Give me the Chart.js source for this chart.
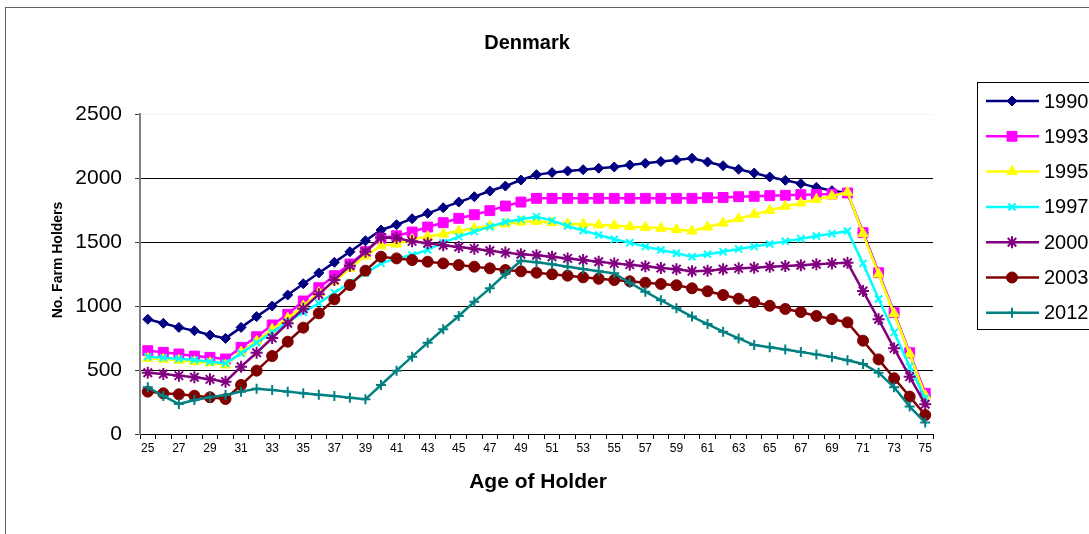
<!DOCTYPE html>
<html>
<head>
<meta charset="utf-8">
<script src="https://cdn.jsdelivr.net/npm/chart.js@4/dist/chart.umd.min.js"></script>
<style>
  body { margin: 0; background: #fff; }
  canvas { display: block; }
</style>
</head>
<body>
<canvas id="myChart" width="1089" height="534"></canvas>
<script>
// ages on the x axis, 25 .. 75
const ages = [25,26,27,28,29,30,31,32,33,34,35,36,37,38,39,40,41,42,43,44,45,46,47,48,49,50,
  51,52,53,54,55,56,57,58,59,60,61,62,63,64,65,66,67,68,69,70,71,72,73,74,75];

// number of farm holders per age
const y1990 = [896,865,833,807,773,747, 833,917,1000,1086,1174,1258,1341,1424,1510,1594,
  1635,1682,1724,1768,1812,1854,1898,1937,1984,2026, 2042,2055,2065,2076,2086,2102,2115,2128,2141,2154,
  2125,2096,2068,2039,2008,1982,1956,1927,1901,1883, 1575,1260,945,630,300];
const y1993 = [651,638,625,609,599,586, 677,760,852,935,1039,1143,1237,1328,1424,1529,
  1549,1578,1617,1651,1685,1713,1745,1781,1812,1841, 1841,1841,1841,1841,1841,1841,1841,1841,1841,1841,
  1846,1848,1854,1857,1862,1865,1870,1872,1875,1883, 1573,1260,948,635,318];
const y1995 = [591,583,576,565,557,539, 640,725,818,904,1000,1104,1190,1294,1391,1471,
  1484,1521,1542,1562,1586,1607,1625,1641,1656,1662, 1651,1643,1638,1633,1628,1620,1615,1607,1597,1586,
  1617,1648,1682,1716,1747,1779,1805,1833,1859,1888, 1565,1250,940,625,300];
const y1997 = [604,596,588,578,565,552, 630,713,794,875,951,1021,1104,1182,1255,1333,
  1372,1398,1438,1495,1542,1581,1620,1656,1677,1698, 1667,1625,1589,1555,1521,1495,1464,1438,1412,1385,
  1404,1424,1445,1464,1484,1505,1526,1547,1565,1586, 1333,1055,794,526,279];
const y2000 = [479,469,456,443,427,409, 526,635,750,865,979,1091,1203,1315,1424,1536,
  1531,1505,1490,1474,1461,1448,1432,1417,1404,1396, 1385,1372,1359,1346,1333,1323,1310,1297,1287,1271,
  1276,1287,1294,1299,1307,1312,1318,1326,1333,1338, 1117,896,669,448,232];
const y2003 = [331,318,310,299,287,273, 383,495,609,721,831,943,1052,1164,1276,1385,
  1372,1359,1346,1333,1320,1307,1294,1281,1271,1260, 1248,1237,1224,1213,1203,1193,1182,1172,1162,1138,
  1115,1086,1057,1031,1002,977,953,922,898,872, 729,583,435,292,148];
const y2012 = [365,297,234,266,287,305, 331,354,344,331,318,307,297,284,271,383,
  495,604,713,818,922,1034,1138,1250,1354,1341, 1326,1307,1289,1271,1255,1182,1112,1045,982,917,
  859,799,747,695,677,661,641,622,602,576, 547,479,365,214,89];

const seriesNames = ['1990','1993','1995','1997','2000','2003','2012'];
const yTicks = [0, 500, 1000, 1500, 2000, 2500];

const FONT = "'Liberation Sans', Arial, sans-serif";

// look of each series (colour, marker)
const looks = [
  { color: '#000080', point: 'rectRot', r: 5 },
  { color: '#FF00FF', point: 'rect', r: 7 },
  { color: '#FFFF00', point: 'triangle', r: 6 },
  { color: '#00FFFF', point: 'crossRot', r: 5 },
  { color: '#800080', point: 'star', r: 6 },
  { color: '#800000', point: 'circle', r: 5.5 },
  { color: '#008080', point: 'cross', r: 5 }
];

const values = [y1990, y1993, y1995, y1997, y2000, y2003, y2012];

const datasets = values.map(function (v, i) {
  const lk = looks[i];
  const stroked = (lk.point === 'crossRot' || lk.point === 'star' || lk.point === 'cross');
  return {
    label: seriesNames[i],
    data: v,
    borderColor: lk.color,
    backgroundColor: lk.color,
    borderWidth: 2.5,
    pointStyle: lk.point,
    pointRadius: lk.r,
    pointBorderWidth: stroked ? 2 : 1,
    pointBackgroundColor: lk.color,
    pointBorderColor: lk.color,
    tension: 0,
    order: values.length - 1 - i // later series on top, like excel
  };
});

// titles, legend and outer frame
const decor = {
  id: 'decor',
  beforeDraw(chart) {
    const ctx = chart.ctx;
    ctx.save();
    ctx.fillStyle = '#fff';
    ctx.fillRect(0, 0, chart.width, chart.height);
    ctx.strokeStyle = '#606060';
    ctx.lineWidth = 1;
    ctx.strokeRect(5.5, 7.5, 1200, 600);
    ctx.restore();
  },
  afterDraw(chart) {
    const ctx = chart.ctx;
    ctx.save();
    ctx.fillStyle = '#000';
    ctx.textAlign = 'center';
    ctx.textBaseline = 'middle';
    ctx.font = 'bold 20px ' + FONT;
    ctx.fillText('Denmark', 527, 43);
    ctx.font = 'bold 21px ' + FONT;
    ctx.fillText('Age of Holder', 538, 482);
    ctx.translate(58, 260);
    ctx.rotate(-Math.PI / 2);
    ctx.font = 'bold 14px ' + FONT;
    ctx.fillText('No. Farm Holders', 0, 0);
    ctx.restore();

    // legend box
    ctx.save();
    ctx.strokeStyle = '#000';
    ctx.lineWidth = 1;
    ctx.fillStyle = '#fff';
    ctx.fillRect(977.5, 82.5, 200, 247);
    ctx.strokeRect(977.5, 82.5, 200, 247);
    chart.data.datasets.forEach(function (ds, i) {
      const y = 101 + i * 35.3;
      ctx.strokeStyle = ds.borderColor;
      ctx.lineWidth = 2.5;
      ctx.beginPath();
      ctx.moveTo(986, y);
      ctx.lineTo(1039, y);
      ctx.stroke();
      ctx.fillStyle = ds.pointBackgroundColor;
      ctx.strokeStyle = ds.pointBorderColor;
      ctx.lineWidth = ds.pointBorderWidth;
      Chart.helpers.drawPoint(ctx, { pointStyle: ds.pointStyle, radius: ds.pointRadius, borderWidth: ds.pointBorderWidth, rotation: 0 }, 1012, y);
      ctx.fillStyle = '#000';
      ctx.font = '20px ' + FONT;
      ctx.textAlign = 'left';
      ctx.textBaseline = 'middle';
      ctx.fillText(ds.label, 1044, y + 1);
    });
    ctx.restore();
  }
};

const config = {
  type: 'line',
  data: { labels: ages, datasets: datasets },
  options: {
    responsive: false,
    animation: false,
    layout: { padding: { top: 114, right: 156, left: 0, bottom: 0 } },
    plugins: {
      legend: { display: false },
      title: { display: false },
      tooltip: { enabled: false }
    },
    scales: {
      x: {
        type: 'category',
        offset: true,
        afterFit(scale) { scale.height = 100; },
        grid: {
          offset: true,
          drawOnChartArea: false,
          drawTicks: true,
          tickLength: 5,
          tickColor: '#000'
        },
        border: { color: '#000', width: 1 },
        ticks: {
          autoSkip: false,
          maxRotation: 0,
          padding: 2,
          color: '#000',
          font: { family: FONT, size: 12 },
          callback: function (val, i) { return i % 2 === 0 ? ages[i] : ''; }
        }
      },
      y: {
        min: 0,
        max: 2500,
        afterFit(scale) { scale.width = 140; },
        afterBuildTicks(scale) { scale.ticks = yTicks.map(function (v) { return { value: v }; }); },
        grid: {
          color: function (c) {
            if (c.tick.value === 0) return 'rgba(0,0,0,0)';
            if (c.tick.value === 2500) return 'rgba(0,0,0,0.04)';
            return '#000';
          },
          tickColor: '#404040',
          tickLength: 5,
          lineWidth: 1
        },
        border: { color: '#808080', width: 2 },
        ticks: {
          padding: 13,
          color: '#000',
          font: { family: FONT, size: 21 },
          callback: function (val) { return String(val); }
        }
      }
    }
  },
  plugins: [decor]
};

const myChart = new Chart(document.getElementById('myChart'), config);
</script>
</body>
</html>
